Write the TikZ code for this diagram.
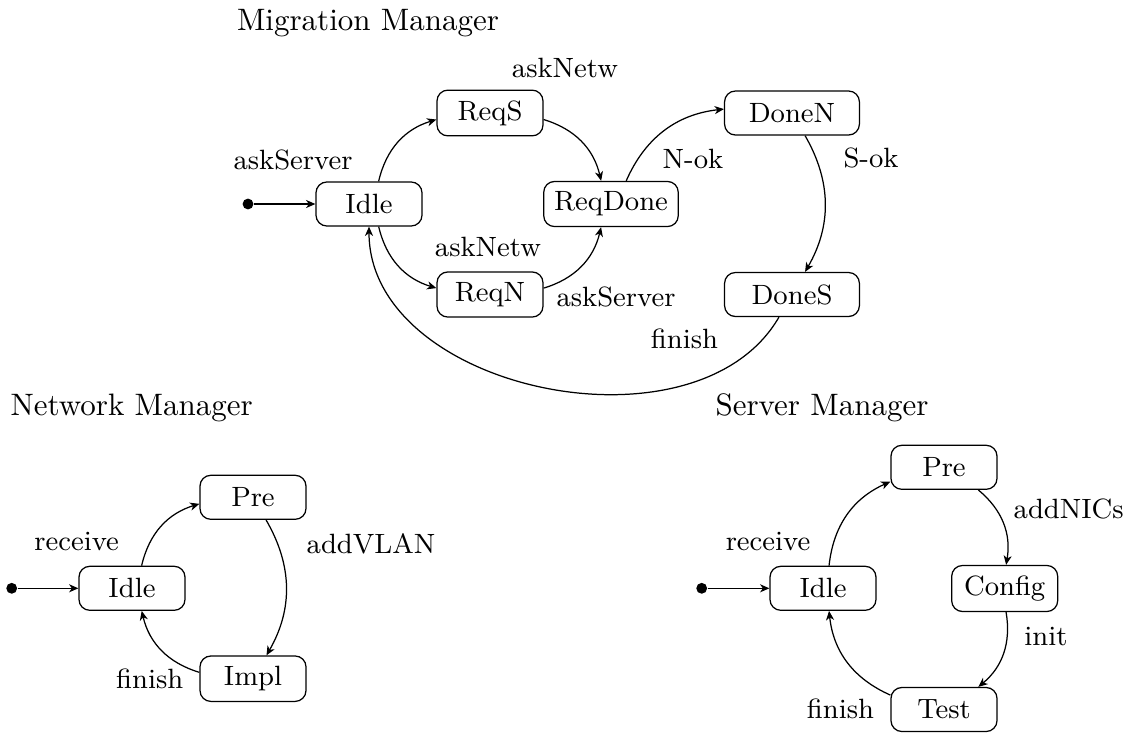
\documentclass[tikz,border=0pt]{standalone}
\usetikzlibrary{arrows.meta}
\begin{document}
\begin{tikzpicture}[x=0.3226pt, y=0.3226pt,
  state/.style={draw, rounded corners=3.5pt, minimum width=34.2pt,
                minimum height=14.2pt, inner sep=3.33pt, font=\small},
  wide/.style={minimum width=43.5pt},
  lbl/.style={anchor=base, font=\small, inner sep=0pt},
  heading/.style={anchor=base, inner sep=0pt},
  initdot/.style={circle, fill, inner sep=0pt, minimum size=3.5pt},
  trans/.style={-{Stealth[length=3pt,width=2.6pt,inset=0.9pt]}},
]
\useasboundingbox (0,0) rectangle (1130,-737);

% ---------------- Migration Manager ----------------
\node[heading] (mTitle) at (368,-30) {Migration Manager};
\node[initdot] (mInit)    at (248,-204) {};
\node[state]   (mIdle)    at (369,-204) {Idle};
\node[state]   (mReqS)    at (490,-113) {ReqS};
\node[state]   (mReqN)    at (490,-294.5) {ReqN};
\node[state]   (mReqDone) at (611,-204) {ReqDone};
\node[state,wide] (mDoneN) at (792,-113) {DoneN};
\node[state,wide] (mDoneS) at (792,-294.5) {DoneS};

\draw[trans] (mInit) -- (mIdle);
\draw[trans] (mIdle) to[bend left] (mReqS);
\draw[trans] (mReqS) to[bend left] (mReqDone);
\draw[trans] (mIdle) to[bend right] (mReqN);
\draw[trans] (mReqN) to[bend right] (mReqDone);
\draw[trans] (mReqDone) to[bend left] (mDoneN);
\draw[trans] (mDoneN) to[bend left] (mDoneS);
\draw[trans] (mDoneS) to[out=-120, in=-90] (mIdle);

\node[lbl] (mL1) at (293,-169) {askServer};
\node[lbl] (mL2) at (565,-77) {askNetw};
\node[lbl] (mL3) at (488,-256) {askNetw};
\node[lbl] (mL4) at (616,-306) {askServer};
\node[lbl] (mL5) at (693,-168) {N-ok};
\node[lbl] (mL6) at (871,-167) {S-ok};
\node[lbl] (mL7) at (684.5,-348) {finish};

% ---------------- Network Manager ----------------
\node[heading] (nTitle) at (131.7,-415) {Network Manager};
\node[initdot] (nInit) at (11.7,-588.3) {};
\node[state]   (nIdle) at (132,-588.3) {Idle};
\node[state]   (nPre)  at (253,-497.3) {Pre};
\node[state]   (nImpl) at (253,-678.7) {Impl};

\draw[trans] (nInit) -- (nIdle);
\draw[trans] (nIdle) to[bend left] (nPre);
\draw[trans] (nPre) to[bend left] (nImpl);
\draw[trans] (nImpl) to[bend left] (nIdle);

\node[lbl] (nL1) at (76.7,-550) {receive};
\node[lbl] (nL2) at (371,-553.3) {addVLAN};
\node[lbl] (nL3) at (149.7,-688.3) {finish};

% ---------------- Server Manager ----------------
\node[heading] (sTitle) at (822,-415) {Server Manager};
\node[initdot] (sInit)   at (701.7,-588.3) {};
\node[state]   (sIdle)   at (823,-588.3) {Idle};
\node[state]   (sPre)    at (944,-467.3) {Pre};
\node[state]   (sConfig) at (1004.7,-588.5) {Config};
\node[state]   (sTest)   at (944,-709.5) {Test};

\draw[trans] (sInit) -- (sIdle);
\draw[trans] (sIdle) to[bend left] (sPre);
\draw[trans] (sPre) to[bend left] (sConfig);
\draw[trans] (sConfig) to[bend left] (sTest);
\draw[trans] (sTest) to[bend left] (sIdle);

\node[lbl] (sL1) at (768,-550) {receive};
\node[lbl] (sL2) at (1068.7,-518.3) {addNICs};
\node[lbl] (sL3) at (1046,-645) {init};
\node[lbl] (sL4) at (840.5,-718.3) {finish};
\end{tikzpicture}
\end{document}
